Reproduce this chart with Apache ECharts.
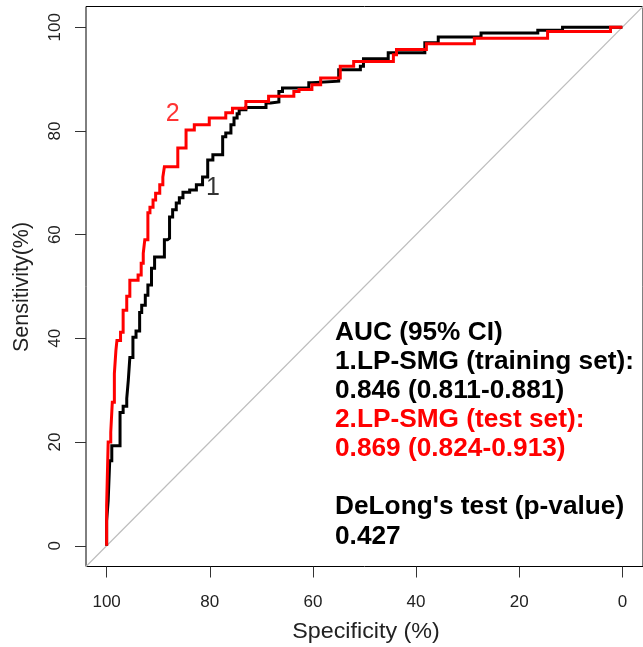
<!DOCTYPE html>
<html>
<head>
<meta charset="utf-8">
<script src="https://cdn.jsdelivr.net/npm/echarts@6/dist/echarts.min.js"></script>
<style>
html,body{margin:0;padding:0;background:#fff;}
#chart{width:643px;height:647px;}
</style>
</head>
<body>
<div id="chart"></div>
<script>
// Tick values (percent)
var tickValues = [0, 20, 40, 60, 80, 100];

// ROC curve 1: LP-SMG training set  [specificity %, sensitivity %]
var trainingROC = [[100,0],[100,4.8],[99.7,4.8],[99.7,8.7],[99.4,8.7],[99.4,16.4],[99.0,16.4],[99.0,19.3],[97.4,19.3],[97.4,25.7],[96.8,25.7],[96.8,26.9],[96.1,26.9],[96.1,28.4],[95.8,28.4],[95.8,31.9],[95.5,31.9],[95.5,36.3],[94.9,36.3],[94.9,40.2],[94.3,40.2],[94.3,41.4],[93.6,41.4],[93.6,45.0],[93.2,45.0],[93.2,46.4],[92.5,46.4],[92.5,48.3],[92.0,48.3],[92.0,50.3],[91.3,50.3],[91.3,53.5],[90.7,53.5],[90.7,55.7],[88.8,55.7],[88.8,59.0],[88.2,59.0],[88.2,59.3],[87.8,59.3],[87.8,63.4],[87.2,63.4],[87.2,64.8],[86.5,64.8],[86.5,66.1],[85.9,66.1],[85.9,67.1],[85.2,67.1],[85.2,68.2],[83.9,68.2],[83.9,68.6],[82.6,68.6],[82.6,69.6],[81.4,69.6],[81.4,71.1],[80.4,71.1],[80.4,74.4],[79.4,74.4],[79.4,75.4],[77.5,75.4],[77.5,78.9],[76.9,78.9],[76.9,79.6],[75.9,79.6],[75.9,81.2],[75.3,81.2],[75.3,82.5],[74.7,82.5],[74.7,83.3],[74.3,83.3],[74.3,84.1],[73.0,84.1],[73.0,84.5],[69.1,84.5],[69.1,85.4],[68.2,85.4],[68.2,85.6],[66.6,85.6],[66.6,87.6],[65.9,87.6],[65.9,88.3],[60.8,88.3],[60.8,89.3],[60.2,89.3],[60.2,89.6],[55.0,89.6],[55.0,91.8],[50.8,91.8],[50.8,92.5],[50.2,92.5],[50.2,93.9],[45.4,93.9],[45.4,95.1],[38.3,95.1],[38.3,97.0],[35.7,97.0],[35.7,98.1],[27.4,98.1],[27.4,98.9],[16.4,98.9],[16.4,99.4],[11.6,99.4],[11.6,100],[0,100]];

// ROC curve 2: LP-SMG test set  [specificity %, sensitivity %]
var testROC = [[100,0],[100,7.7],[99.7,7.7],[99.7,20.0],[99.2,20.0],[99.2,21.9],[98.9,21.9],[98.9,27.7],[98.5,27.7],[98.5,33.2],[98.2,33.2],[98.2,37.7],[98.0,37.7],[98.0,39.6],[97.3,39.6],[97.3,41.2],[96.8,41.2],[96.8,45.4],[96.1,45.4],[96.1,48.1],[95.5,48.1],[95.5,51.2],[93.9,51.2],[93.9,52.2],[93.3,52.2],[93.3,54.5],[92.9,54.5],[92.9,56.4],[92.6,56.4],[92.6,59.0],[92.0,59.0],[92.0,64.2],[91.6,64.2],[91.6,65.3],[91.0,65.3],[91.0,66.7],[90.5,66.7],[90.5,68.0],[89.7,68.0],[89.7,69.6],[89.1,69.6],[89.1,71.1],[88.8,71.1],[88.8,73.1],[86.2,73.1],[86.2,76.7],[84.6,76.7],[84.6,80.2],[83.0,80.2],[83.0,81.2],[80.1,81.2],[80.1,82.5],[76.9,82.5],[76.9,83.5],[75.6,83.5],[75.6,84.4],[73.0,84.4],[73.0,85.7],[68.6,85.7],[68.6,86.7],[63.7,86.7],[63.7,87.6],[62.7,87.6],[62.7,88.0],[60.2,88.0],[60.2,88.9],[58.5,88.9],[58.5,90.2],[54.7,90.2],[54.7,92.5],[52.1,92.5],[52.1,93.4],[44.4,93.4],[44.4,94.7],[43.8,94.7],[43.8,95.7],[38.0,95.7],[38.0,96.8],[28.7,96.8],[28.7,97.9],[14.5,97.9],[14.5,99.2],[2.3,99.2],[2.3,100],[0,100]];

// Chance diagonal (sens = 100 - spec) across the whole axis range
var diagonal = [[104,-4],[-4,104]];

// Curve number labels [spec, sens, text]
var curveLabels = [[79.4, 69.0, '1'], [87.2, 83.3, '2']];

// Annotation text lines
var annotationLines = [
  {text: 'AUC (95% CI)', color: '#000'},
  {text: '1.LP-SMG (training set):', color: '#000'},
  {text: '0.846 (0.811-0.881)', color: '#000'},
  {text: '2.LP-SMG (test set):', color: '#ff0000'},
  {text: '0.869 (0.824-0.913)', color: '#ff0000'},
  {text: '', color: '#000'},
  {text: "DeLong's test (p-value)", color: '#000'},
  {text: '0.427', color: '#000'}
];

var FONT = 'Liberation Sans, Arial, sans-serif';
var chart = echarts.init(document.getElementById('chart'), null, {renderer: 'canvas'});

var textChildren = [];
annotationLines.forEach(function (l, i) {
  if (!l.text) return;
  textChildren.push({
    type: 'text', x: 0, y: i * 29.1,
    style: {text: l.text, fill: l.color, fontSize: 25, fontWeight: 'bold', fontFamily: FONT,
            align: 'left', verticalAlign: 'middle'}
  });
});
var graphics = [
  {type: 'group', x: 335, y: 333, scaleX: 1.05, z: 10, children: textChildren},
  {type: 'text', x: 366, y: 632, scaleX: 1.06, z: 10,
   style: {text: 'Specificity (%)', fill: '#222', fontSize: 22, fontFamily: FONT, align: 'center', verticalAlign: 'middle'}},
  {type: 'text', x: 22, y: 287, rotation: Math.PI / 2, z: 10,
   style: {text: 'Sensitivity(%)', fill: '#222', fontSize: 21.5, fontFamily: FONT, align: 'center', verticalAlign: 'middle'}}
];

chart.setOption({
  animation: false,
  backgroundColor: '#fff',
  grid: {left: 86, top: 6.5, width: 560, height: 560, show: true, borderColor: '#000', borderWidth: 1, backgroundColor: 'transparent'},
  xAxis: {
    type: 'value', min: -4, max: 104, inverse: true,
    axisLine: {show: false, onZero: false},
    splitLine: {show: false},
    axisTick: {show: true, inside: false, length: 11, customValues: tickValues, lineStyle: {color: '#333', width: 1}},
    axisLabel: {show: true, customValues: tickValues, margin: 27, fontSize: 17, color: '#222', fontFamily: FONT}
  },
  yAxis: {
    type: 'value', min: -4, max: 104,
    axisLine: {show: false, onZero: false},
    splitLine: {show: false},
    axisTick: {show: true, inside: false, length: 11, customValues: tickValues, lineStyle: {color: '#333', width: 1}},
    axisLabel: {show: true, customValues: tickValues, margin: 22, rotate: 90, fontSize: 17, color: '#222', fontFamily: FONT}
  },
  graphic: graphics,
  series: [
    {type: 'line', data: diagonal, showSymbol: false, silent: true, z: 1,
     lineStyle: {color: '#bdbdbd', width: 1.2}},
    {type: 'line', data: trainingROC, showSymbol: false, z: 2,
     lineStyle: {color: '#000', width: 3, join: 'miter'}},
    {type: 'line', data: testROC, showSymbol: false, z: 3,
     lineStyle: {color: '#ff0000', width: 3, join: 'miter'}},
    {type: 'scatter', symbolSize: 0, z: 5,
     data: curveLabels.map(function (d) {
       return {value: [d[0], d[1]], name: d[2], label: {color: d[2] === '2' ? '#ff0000' : '#000'}};
     }),
     label: {show: true, position: 'inside', formatter: function (p) { return p.name; },
             fontSize: 25, fontFamily: FONT}
    }
  ]
});
</script>
</body>
</html>
